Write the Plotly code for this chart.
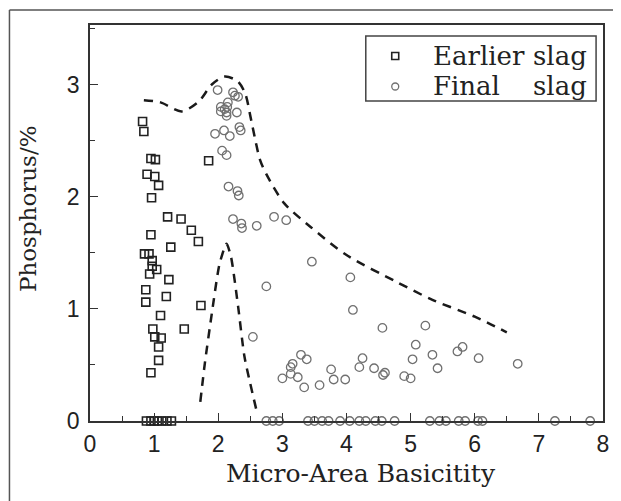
import plotly.graph_objects as go

# Earlier slag (squares)
early_x = [0.82, 0.84, 0.95, 1.02, 0.89, 1.01, 1.07, 0.96, 1.21, 1.42, 1.58, 1.69, 1.85,
           0.95, 1.26, 0.85, 0.92, 0.97, 0.97, 1.04, 0.93, 1.23, 0.87, 1.19, 0.87, 1.73,
           1.10, 1.47, 0.98, 1.01, 1.11, 1.07, 1.07, 0.95,
           0.88, 0.95, 1.00, 1.05, 1.12, 1.20, 1.27]
early_y = [2.67, 2.58, 2.34, 2.33, 2.20, 2.18, 2.10, 1.99, 1.82, 1.80, 1.70, 1.60, 2.32,
           1.66, 1.55, 1.49, 1.49, 1.43, 1.38, 1.35, 1.31, 1.26, 1.17, 1.11, 1.06, 1.03,
           0.94, 0.82, 0.82, 0.75, 0.74, 0.66, 0.54, 0.43,
           0, 0, 0, 0, 0, 0, 0]

# Final slag (circles)
final_x = [1.99, 2.23, 2.31, 2.26, 2.15, 2.04, 2.10, 2.14, 2.04, 2.13, 2.13, 2.29, 2.33, 2.35,
           1.95, 2.09, 2.18, 2.06, 2.13, 2.16, 2.30, 2.32, 2.23, 2.36, 2.37, 2.60, 2.87, 3.06,
           3.46, 4.06, 2.75, 4.10, 4.56, 5.23, 2.54, 5.08, 3.29, 3.38, 3.16, 3.13, 4.25, 5.03,
           5.34, 4.20, 3.76, 4.43, 4.60, 4.57, 3.13, 3.24, 3.00, 3.80, 3.98, 3.34, 3.58, 4.90,
           5.00, 5.42, 5.73, 5.81, 6.06, 6.67,
           2.75, 2.85, 2.95, 3.40, 3.50, 3.62, 3.72, 3.90, 4.05, 4.20, 4.30, 4.45, 4.55, 4.75,
           5.30, 5.45, 5.55, 5.75, 5.85, 6.05, 6.12, 7.25, 7.80]
final_y = [2.95, 2.93, 2.89, 2.90, 2.84, 2.80, 2.78, 2.80, 2.76, 2.75, 2.72, 2.75, 2.62, 2.59,
           2.56, 2.59, 2.54, 2.41, 2.37, 2.09, 2.05, 2.01, 1.80, 1.76, 1.72, 1.74, 1.82, 1.79,
           1.42, 1.28, 1.20, 0.99, 0.83, 0.85, 0.75, 0.68, 0.59, 0.55, 0.51, 0.48, 0.56, 0.55,
           0.59, 0.48, 0.46, 0.47, 0.43, 0.41, 0.42, 0.39, 0.38, 0.37, 0.37, 0.30, 0.32, 0.40,
           0.38, 0.47, 0.62, 0.66, 0.56, 0.51,
           0, 0, 0, 0, 0, 0, 0, 0, 0, 0, 0, 0, 0, 0,
           0, 0, 0, 0, 0, 0, 0, 0, 0]

# Upper envelope (dashed)
upper_x = [0.84, 1.10, 1.43, 1.70, 1.90, 2.10, 2.30, 2.42, 2.50, 2.58, 2.65, 2.75, 3.03, 3.44,
           4.00, 4.78, 5.34, 6.00, 6.50]
upper_y = [2.86, 2.84, 2.76, 2.85, 3.00, 3.07, 3.03, 2.92, 2.72, 2.50, 2.33, 2.20, 1.94, 1.73,
           1.48, 1.24, 1.08, 0.93, 0.79]

# Lower envelope (dashed inverted V)
lower_x = [1.72, 1.79, 1.90, 2.02, 2.13, 2.20, 2.31, 2.41, 2.59]
lower_y = [0.17, 0.51, 0.96, 1.40, 1.58, 1.46, 1.02, 0.57, 0.11]

x_ticks = [0, 1, 2, 3, 4, 5, 6, 7, 8]
y_ticks = [0, 1, 2, 3]

series_names = ["Earlier", "Final"]
series_suffix = "slag"

SERIF = "DejaVu Serif, serif"
SANS = "Liberation Sans, Arial, sans-serif"
SQ_COLOR = "#222222"
CI_COLOR = "#707070"

fig = go.Figure()

fig.add_trace(go.Scatter(x=upper_x, y=upper_y, mode="lines", showlegend=False,
                         line=dict(color="#1a1a1a", width=2.5, dash="9px,7px", shape="spline", smoothing=0.8),
                         hoverinfo="skip"))
fig.add_trace(go.Scatter(x=lower_x, y=lower_y, mode="lines", showlegend=False,
                         line=dict(color="#1a1a1a", width=2.5, dash="9px,7px", shape="spline", smoothing=0.6),
                         hoverinfo="skip"))

fig.add_trace(go.Scatter(x=early_x, y=early_y, mode="markers", showlegend=False,
                         name=series_names[0] + " " + series_suffix,
                         marker=dict(symbol="square-open", size=8, color=SQ_COLOR, line=dict(width=1.6)),
                         cliponaxis=False))
fig.add_trace(go.Scatter(x=final_x, y=final_y, mode="markers", showlegend=False,
                         name=series_names[1] + " " + series_suffix,
                         marker=dict(symbol="circle-open", size=8.5, color=CI_COLOR, line=dict(width=1.3)),
                         cliponaxis=False))

fig.update_layout(
    width=613, height=493,
    margin=dict(l=82, r=12, t=17, b=80),
    paper_bgcolor="white", plot_bgcolor="white",
    font=dict(family=SANS, color="#222222"),
    showlegend=False,
    xaxis=dict(range=[0, 8], tickvals=x_ticks, ticktext=[str(v) for v in x_ticks],
               showgrid=False, zeroline=False, showline=True, linecolor="#333333", linewidth=1.5,
               mirror=True, ticks="inside", ticklen=8, tickwidth=1.2, tickcolor="#333333",
               minor=dict(dtick=0.5, ticks="inside", ticklen=5, tickwidth=1, tickcolor="#333333"),
               tickfont=dict(family=SANS, size=23, color="#222222"),
               ticklabelstandoff=2),
    yaxis=dict(range=[0, 3.53], tickvals=y_ticks, ticktext=[str(v) for v in y_ticks],
               showgrid=False, zeroline=False, showline=True, linecolor="#333333", linewidth=1.5,
               mirror=True, ticks="inside", ticklen=8, tickwidth=1.2, tickcolor="#333333",
               minor=dict(dtick=0.5, ticks="inside", ticklen=5, tickwidth=1, tickcolor="#333333"),
               tickfont=dict(family=SANS, size=23, color="#222222"),
               ticklabelstandoff=4),
)

# Axis titles
fig.add_annotation(text="Micro-Area Basicitity", xref="paper", yref="paper", x=0.528, y=-0.132,
                   xanchor="center", yanchor="middle", showarrow=False,
                   font=dict(family=SERIF, size=25, color="#222222"))
fig.add_annotation(text="Phosphorus/%", xref="paper", yref="paper", x=-0.1195, y=0.537,
                   xanchor="center", yanchor="middle", showarrow=False, textangle=-90,
                   font=dict(family=SERIF, size=23, color="#222222"))

# Legend (box, keys, labels)
lx0, lx1, ly0, ly1 = 0.5376, 0.9865, 0.808, 0.9722
fig.add_shape(type="rect", xref="paper", yref="paper", x0=lx0, x1=lx1, y0=ly0, y1=ly1,
              line=dict(color="#444444", width=1.5), fillcolor="white", layer="above")
row_y = [0.9217, 0.8447]
key_x = 0.595
hw, hh = 0.0068, 0.0088
fig.add_shape(type="rect", xref="paper", yref="paper", x0=key_x - hw, x1=key_x + hw,
              y0=row_y[0] - hh, y1=row_y[0] + hh, line=dict(color=SQ_COLOR, width=1.6), layer="above")
fig.add_shape(type="circle", xref="paper", yref="paper", x0=key_x - hw, x1=key_x + hw,
              y0=row_y[1] - hh, y1=row_y[1] + hh, line=dict(color=CI_COLOR, width=1.3), layer="above")
for name, ry in zip(series_names, row_y):
    fig.add_annotation(text=name, xref="paper", yref="paper", x=0.6647, y=ry,
                       xanchor="left", yanchor="middle", showarrow=False,
                       font=dict(family=SERIF, size=26, color="#222222"))
    fig.add_annotation(text=series_suffix, xref="paper", yref="paper", x=0.972, y=ry,
                       xanchor="right", yanchor="middle", showarrow=False,
                       font=dict(family=SERIF, size=26, color="#222222"))

# Outer frame (top and left edges of the figure border)
fig.add_shape(type="line", xref="paper", yref="paper", x0=-0.157, x1=1.03, y0=1.038, y1=1.038,
              line=dict(color="#555555", width=1.5))
fig.add_shape(type="line", xref="paper", yref="paper", x0=-0.157, x1=-0.157, y0=1.038, y1=-0.21,
              line=dict(color="#555555", width=1.5))

fig.write_html("out.html")
